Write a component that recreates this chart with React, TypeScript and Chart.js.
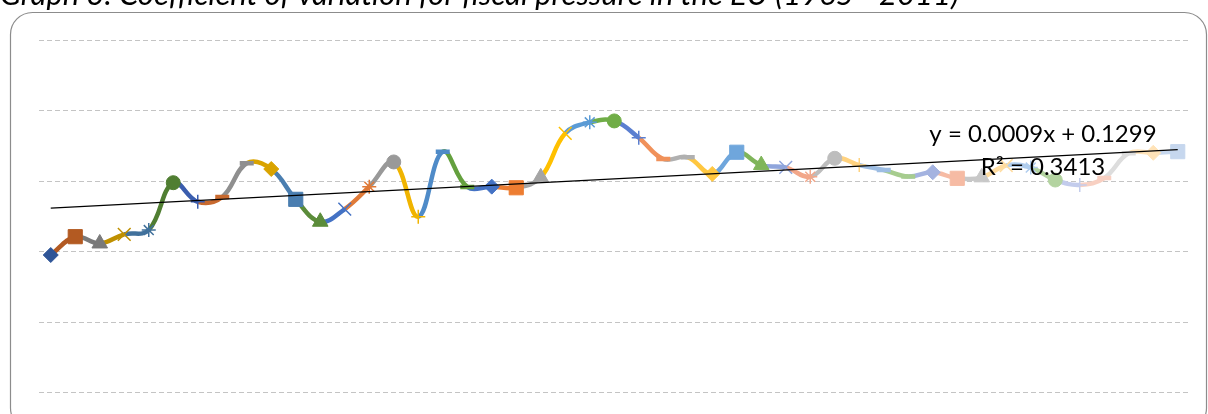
import React, { useEffect, useRef } from "react";
import { Chart, registerables } from "chart.js";

Chart.register(...registerables);

// ---- data ----
const titleText = "Graph 3. Coefficient of variation for fiscal pressure in the EU (1965 - 2011)";

const years = [
  1965, 1966, 1967, 1968, 1969, 1970, 1971, 1972, 1973, 1974,
  1975, 1976, 1977, 1978, 1979, 1980, 1981, 1982, 1983, 1984,
  1985, 1986, 1987, 1988, 1989, 1990, 1991, 1992, 1993, 1994,
  1995, 1996, 1997, 1998, 1999, 2000, 2001, 2002, 2003, 2004,
  2005, 2006, 2007, 2008, 2009, 2010, 2011,
];

const cvValues = [
  0.0975, 0.1105, 0.1057, 0.1122, 0.1152, 0.1488, 0.1353, 0.1387, 0.1626, 0.1585,
  0.1370, 0.1211, 0.1301, 0.1460, 0.1635, 0.1247, 0.1708, 0.1458, 0.1460, 0.1452,
  0.1526, 0.1838, 0.1916, 0.1926, 0.1807, 0.1656, 0.1668, 0.1550, 0.1704, 0.1613,
  0.1597, 0.1530, 0.1661, 0.1613, 0.1578, 0.1532, 0.1562, 0.1519, 0.1526, 0.1610,
  0.1595, 0.1507, 0.1472, 0.1521, 0.1696, 0.1700, 0.1708,
];

const trendSlope = 0.0009;
const trendIntercept = 0.1299;
const trendLabel = "y = 0.0009x + 0.1299";
const r2Label = "R² = 0.3413";

const yTicks = [0, 0.05, 0.1, 0.15, 0.2, 0.25];

// ---- styles ----
const pointColors = [
  "#2F5597", "#B35A22", "#7A7A7A", "#BF9000", "#41719C", "#507E32", "#3A5DAE", "#C8692E", "#8F8F8F",
  "#D9A300", "#4A7EB0", "#5B8C3A", "#4472C4", "#E07A38", "#999999", "#F0B400", "#4F8BC8", "#64A03E",
  "#4472C4", "#ED7D31", "#A5A5A5", "#FFC000", "#5B9BD5", "#70AD47", "#5B7FD0", "#F0915A", "#B0B0B0",
  "#FFC740", "#6FA6DC", "#7FB55A", "#8FA5DC", "#F2A78A", "#BDBDBD", "#FFD27F", "#9DBDE3", "#A6CC8E",
  "#A4B3E0", "#F6BBA4", "#C8C8C8", "#FFDCA0", "#B0CDEE", "#B3D3A0", "#C3CCEC", "#F8D0C2", "#DDDDDD",
  "#FFE3B8", "#C6D7EE",
];

const markerCycle = ["rectRot", "rect", "triangle", "crossRot", "star", "circle", "cross", "line", "line"];
const markerRadius: Record<string, number> = {
  rectRot: 7.5, rect: 10, triangle: 9, crossRot: 9, star: 7, circle: 7, cross: 7, line: 7,
};
const markerBorder: Record<string, number> = {
  rectRot: 1, rect: 1, triangle: 1, crossRot: 1.5, star: 1.5, circle: 1, cross: 1.5, line: 4.5,
};

export default function App() {
  const ref = useRef<HTMLCanvasElement | null>(null);

  useEffect(() => {
    if (!ref.current) return;
    const styles = years.map((_, i) => markerCycle[i % markerCycle.length]);
    const seriesData = cvValues.map((v, i) => ({ x: i + 1, y: v }));
    const n = years.length;
    const trendData = [
      { x: 1, y: trendIntercept + trendSlope * 1 },
      { x: n, y: trendIntercept + trendSlope * n },
    ];

    const overlay = {
      id: "overlay",
      beforeDraw(chart: any) {
        const ctx = chart.ctx;
        ctx.save();
        ctx.strokeStyle = "#8C8C8C";
        ctx.lineWidth = 1.2;
        const x0 = 10.5, y0 = 12.5, x1 = 1206.5, y1 = 430, r = 22;
        ctx.beginPath();
        ctx.moveTo(x0 + r, y0);
        ctx.lineTo(x1 - r, y0);
        ctx.arcTo(x1, y0, x1, y0 + r, r);
        ctx.lineTo(x1, y1 - r);
        ctx.arcTo(x1, y1, x1 - r, y1, r);
        ctx.lineTo(x0 + r, y1);
        ctx.arcTo(x0, y1, x0, y1 - r, r);
        ctx.lineTo(x0, y0 + r);
        ctx.arcTo(x0, y0, x0 + r, y0, r);
        ctx.closePath();
        ctx.stroke();
        ctx.restore();
      },
      afterDraw(chart: any) {
        const ctx = chart.ctx;
        ctx.save();
        ctx.fillStyle = "#000000";
        ctx.font = "italic 31px Lato";
        ctx.textAlign = "left";
        ctx.textBaseline = "alphabetic";
        ctx.fillText(titleText, 0, 5);
        ctx.font = "24px Lato";
        ctx.textAlign = "center";
        ctx.fillText(trendLabel, 1043, 142);
        ctx.fillText(r2Label, 1043, 175);
        ctx.restore();
      },
    };

    const chart = new Chart(ref.current, {
      type: "line",
      data: {
        datasets: [
          {
            label: "trend",
            data: trendData,
            borderColor: "#000000",
            borderWidth: 1.3,
            pointRadius: 0,
            tension: 0,
          },
          {
            label: "CV",
            data: seriesData,
            borderWidth: 4.5,
            borderColor: pointColors[0],
            borderCapStyle: "butt",
            tension: 0.4,
            segment: {
              borderColor: (c: any) => pointColors[c.p1DataIndex],
            },
            pointStyle: styles as any,
            pointRadius: styles.map((s) => markerRadius[s]),
            pointBorderWidth: styles.map((s) => markerBorder[s]),
            pointBackgroundColor: pointColors,
            pointBorderColor: pointColors,
          },
        ],
      },
      options: {
        responsive: false,
        maintainAspectRatio: false,
        animation: false,
        layout: { padding: { left: 38.5, right: 18, top: 40, bottom: 21.5 } },
        plugins: { legend: { display: false }, tooltip: { enabled: false } },
        scales: {
          x: { type: "linear", min: 0.5, max: n + 0.5, display: false },
          y: {
            min: yTicks[0],
            max: yTicks[yTicks.length - 1],
            afterBuildTicks: (scale: any) => {
              scale.ticks = yTicks.map((v) => ({ value: v }));
            },
            ticks: { display: false },
            grid: { color: "#C4C4C4", lineWidth: 1, drawTicks: false },
            border: { display: false, dash: [5, 3] },
          },
        },
      },
      plugins: [overlay],
    } as any);

    return () => chart.destroy();
  }, []);

  return (
    <div style={{ position: "fixed", left: 0, top: 0, width: 1208, height: 414, overflow: "hidden", background: "#fff" }}>
      <canvas ref={ref} width={1208} height={414} style={{ display: "block" }} />
    </div>
  );
}
